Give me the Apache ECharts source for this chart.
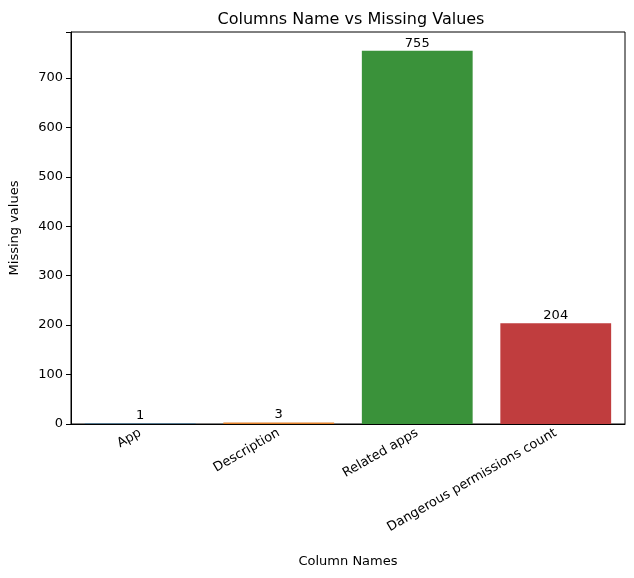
<!DOCTYPE html>
<html>
<head>
<meta charset="utf-8">
<script src="https://cdn.jsdelivr.net/npm/echarts@6/dist/echarts.min.js"></script>
<style>html,body{margin:0;padding:0;background:#fff}#chart{width:634px;height:578px}</style>
</head>
<body>
<div id="chart"></div>
<script>
var categories = ['App', 'Description', 'Related apps', 'Dangerous permissions count'];
var missingValues = [1, 3, 755, 204];
var barColors = ['#3274a1', '#e1812c', '#3a923a', '#c03d3e'];
var yTicks = [0, 100, 200, 300, 400, 500, 600, 700];

var font = 'DejaVu Sans';
var myChart = echarts.init(document.getElementById('chart'));
var option = {
    backgroundColor: '#fff',
    animation: false,
    textStyle: { fontFamily: font },
    title: {
        text: 'Columns Name vs Missing Values',
        left: 346, top: 7, textAlign: 'center',
        textStyle: { fontFamily: font, fontSize: 16, fontWeight: 'normal', color: '#000' }
    },
    grid: {
        left: 67, right: 9, top: 32, bottom: 154,
        show: true, borderColor: '#000', borderWidth: 1
    },
    xAxis: {
        type: 'category',
        data: categories,
        name: 'Column Names',
        nameLocation: 'middle',
        nameGap: 131,
        nameTextStyle: { fontFamily: font, fontSize: 13, color: '#000' },
        axisLine: { lineStyle: { color: '#000' } },
        axisTick: { alignWithLabel: true, length: 5, lineStyle: { color: '#000' } },
        axisLabel: { rotate: 30, fontFamily: font, fontSize: 13, color: '#000', margin: 8 }
    },
    yAxis: {
        type: 'value',
        min: 0, max: 792.75, interval: 100,
        name: 'Missing values',
        nameLocation: 'middle',
        nameGap: 50,
        nameTextStyle: { fontFamily: font, fontSize: 13, color: '#000' },
        axisLine: { show: true, lineStyle: { color: '#000' } },
        axisTick: { show: true, length: 5, lineStyle: { color: '#000' } },
        splitLine: { show: false },
        axisLabel: {
            fontFamily: font, fontSize: 13, color: '#000',
            formatter: function (v) { return yTicks.indexOf(v) >= 0 ? String(v) : ''; }
        }
    },
    series: [{
        type: 'bar',
        barCategoryGap: '20%',
        data: missingValues.map(function (v, i) {
            return { value: v, itemStyle: { color: barColors[i] } };
        }),
        label: {
            show: true, position: 'top', distance: 1,
            fontFamily: font, fontSize: 13, color: '#000'
        }
    }]
};
myChart.setOption(option, true);
</script>
</body>
</html>
